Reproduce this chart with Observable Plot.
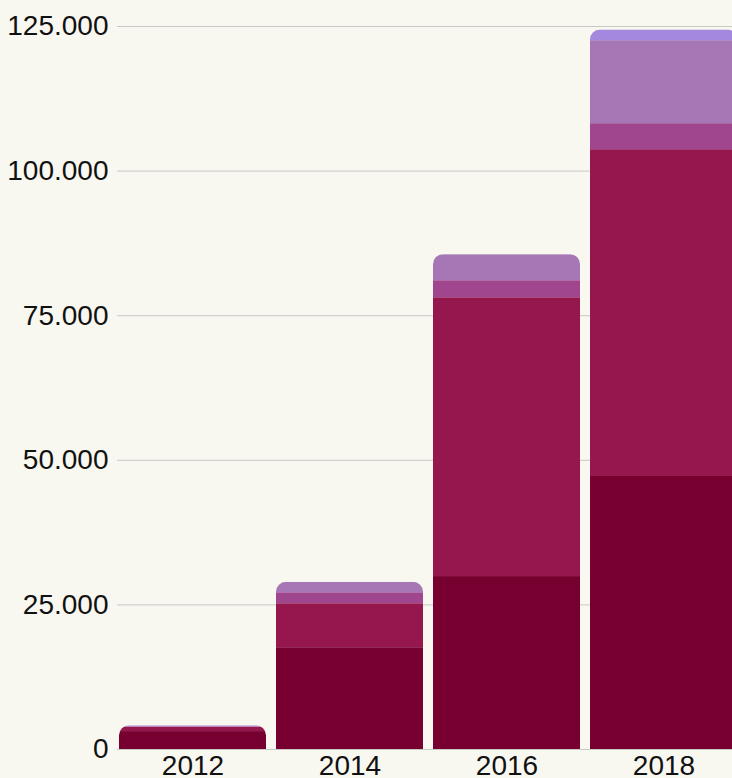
<!DOCTYPE html>
<html>
<head>
<meta charset="utf-8">
<script src="https://cdn.jsdelivr.net/npm/d3@7"></script>
<script src="https://cdn.jsdelivr.net/npm/@observablehq/plot@0.6"></script>
<style>
  html, body { margin: 0; padding: 0; background: #f8f8f1; }
  #chart { width: 732px; height: 778px; overflow: hidden; }
</style>
</head>
<body>
<div id="chart"></div>
<script>
// ---- data ----
const years = ["2012", "2014", "2016", "2018"];
const seriesNames = ["Serie 1", "Serie 2", "Serie 3", "Serie 4", "Serie 5"];
const serie1 = [3100, 17600, 29900, 47200];
const serie2 = [750, 7600, 48200, 56500];
const serie3 = [50, 1900, 2950, 4500];
const serie4 = [100, 1800, 4500, 14350];
const serie5 = [100, 0, 0, 1850];
const yTicks = [0, 25000, 50000, 75000, 100000, 125000];
const colors = ["#780030", "#95174d", "#a0468f", "#a776b4", "#a488e0"];

const seriesValues = [serie1, serie2, serie3, serie4, serie5];
const rows = [];
years.forEach((year, i) => {
  seriesNames.forEach((s, j) => rows.push({year, series: s, value: seriesValues[j][i]}));
});
const totals = years.map((year, i) => ({year, total: d3.sum(seriesValues, v => v[i])}));

const de = d3.formatLocale({decimal: ",", thousands: ".", grouping: [3], currency: ["", " €"]});
const fmt = de.format(",d");

const chart = Plot.plot({
  width: 732,
  height: 778,
  marginLeft: 117,
  marginRight: 0,
  marginTop: 26,
  marginBottom: 29,
  style: {
    background: "#f8f8f1",
    fontFamily: "'Liberation Sans', Arial, sans-serif",
    fontSize: "28px",
    color: "#111111"
  },
  x: {domain: years, range: [117, 738.3], paddingInner: 0.0636, paddingOuter: 0.0064, label: null},
  y: {domain: [0, 125000], label: null},
  color: {domain: seriesNames, range: colors},
  marks: [
    Plot.ruleY(yTicks, {stroke: "#c9c9c4", strokeWidth: 1}),
    Plot.barY(rows, {x: "year", y: "value", fill: "series"}),
    Plot.barY(totals, {x: "year", y: "total", fill: "none", rx: 10, ry: 10, insetBottom: -20}),
    Plot.axisY({ticks: yTicks, tickFormat: fmt, tickSize: 0, tickPadding: 9, label: null}),
    Plot.axisX({tickSize: 0, tickPadding: 6, label: null})
  ]
});

// round only the top of each whole stack: use the totals bars as a clip path
const bars = chart.querySelectorAll('g[aria-label="bar"]');
const segG = bars[0], totG = bars[1];
const ns = "http://www.w3.org/2000/svg";
const defs = document.createElementNS(ns, "defs");
const cp = document.createElementNS(ns, "clipPath");
cp.setAttribute("id", "round-tops");
defs.appendChild(cp);
chart.insertBefore(defs, chart.firstChild);
totG.querySelectorAll("rect, path").forEach(r => {
  const c = r.cloneNode();
  if (c.tagName === "rect") { c.setAttribute("rx", 10); c.setAttribute("ry", 10); }
  cp.appendChild(c);
});
totG.remove();
segG.setAttribute("clip-path", "url(#round-tops)");

document.getElementById("chart").appendChild(chart);
</script>
</body>
</html>
